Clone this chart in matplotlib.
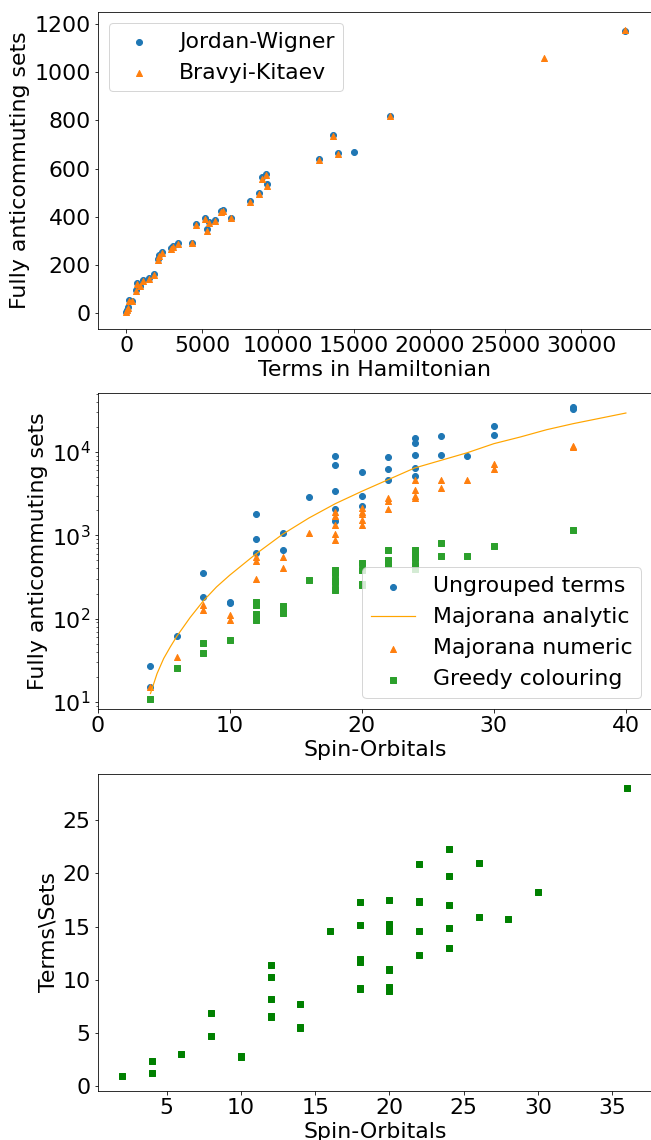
import matplotlib
matplotlib.use('Agg')
import matplotlib.pyplot as plt

plt.rcParams['font.size'] = 22

# top panel: terms in hamiltonian vs fully anticommuting sets
jw_terms = [0, 40, 77, 187, 363, 627, 671, 914, 1112, 1508, 1816, 2103, 2170, 2323, 2940, 3050, 3380,
            4326, 4590, 5186, 5297, 5463, 5834, 6250, 6389, 6899, 8149, 8751, 8936, 9213, 9260,
            12732, 13612, 13959, 15000, 17385, 32873]
jw_sets = [7, 15, 27, 55, 52, 97, 124, 115, 138, 145, 162, 225, 242, 253, 270, 279, 290,
           293, 370, 395, 348, 378, 386, 425, 428, 397, 465, 500, 565, 576, 537,
           642, 741, 664, 669, 820, 1172]
bk_terms = [0, 40, 77, 187, 363, 627, 671, 914, 1112, 1508, 1816, 2103, 2170, 2323, 2940, 3050, 3380,
            4326, 4590, 5186, 5297, 5463, 5834, 6250, 6389, 6899, 8149, 8751, 8936, 9213, 9260,
            12732, 13612, 13959, 17385, 27572, 32873]
bk_sets = [5, 12, 24, 52, 50, 94, 121, 112, 135, 142, 159, 221, 238, 250, 267, 276, 287,
           290, 367, 390, 341, 375, 383, 420, 424, 395, 462, 497, 558, 572, 530,
           638, 735, 661, 817, 1060, 1175]

# middle panel: per number of spin orbitals
orb_terms = [4, 4, 6, 8, 8, 10, 10, 12, 12, 12, 14, 14, 16, 18, 18, 18, 18, 18, 20, 20, 20,
             22, 22, 22, 24, 24, 24, 24, 24, 26, 26, 28, 30, 30, 36, 36]
ungrouped = [26.8, 15.1, 61.4, 356, 184, 154, 157, 1803, 912, 619, 1076, 661, 2884,
             8954, 7047, 3373, 2089, 1486, 5808, 2938, 2249,
             8710, 6194, 4571, 14860, 12705, 9204, 6427, 5152, 15420, 9120, 8872, 20510, 16140, 34670, 32810]

orb_line = [4, 4.5, 5, 5.5, 6, 7, 8, 9, 10, 12, 14, 16, 18, 20, 22, 24, 26, 28, 30, 32, 34, 36, 38, 40]
analytic = [12.6, 21.9, 33.2, 45.7, 61.5, 103, 163, 240, 332, 600, 1028, 1614, 2399, 3373, 4656,
            6427, 7943, 9817, 12590, 15140, 18530, 21880, 25350, 29380]

orb_num = [4, 6, 8, 8, 10, 10, 12, 12, 12, 14, 14, 16, 18, 18, 18, 18, 18, 20, 20, 20, 20, 20,
           22, 22, 22, 24, 24, 24, 24, 26, 26, 28, 30, 30, 36, 36]
numeric = [15.1, 34.7, 147, 128, 109, 95.5, 550, 492, 299, 550, 406, 1076,
           1905, 1690, 1343, 1047, 887, 2109, 1888, 1786, 1514, 1318,
           2780, 2582, 2089, 4571, 3532, 2938, 2831, 4571, 3698, 4571, 7112, 6252, 11700, 11490]

orb_greedy = [4, 6, 8, 8, 10, 12, 12, 12, 12, 12, 14, 14, 14, 16, 18, 18, 18, 18, 18, 18,
              20, 20, 20, 20, 22, 22, 22, 22, 24, 24, 24, 24, 24, 26, 26, 28, 30, 36]
greedy = [10.9, 25.6, 51.5, 38.7, 55.5, 157, 147, 113, 105, 95.5, 141, 128, 117, 291,
          387, 353, 288, 275, 227, 219, 466, 380, 263, 251, 661, 501, 492, 457,
          673, 631, 540, 437, 398, 817, 570, 565, 738, 1159]

# bottom panel: terms / sets
orb_ratio = [2, 4, 4, 6, 8, 8, 10, 10, 12, 12, 12, 12, 12, 14, 14, 14, 16, 18, 18, 18, 18, 18, 18,
             20, 20, 20, 20, 20, 20, 20, 20, 22, 22, 22, 22, 22, 24, 24, 24, 24, 24, 26, 26, 28, 30, 36]
ratio = [1.0, 2.4, 1.3, 3.0, 6.9, 4.7, 2.75, 2.85, 11.4, 10.3, 8.2, 6.65, 6.5, 7.75, 5.6, 5.45, 14.6,
         17.3, 15.1, 12.0, 11.7, 9.2, 9.1, 17.5, 15.2, 14.9, 14.6, 11.0, 10.9, 9.3, 9.0,
         20.9, 17.4, 17.3, 14.6, 12.3, 22.3, 19.7, 17.0, 14.9, 13.0, 21.0, 15.9, 15.75, 18.25, 28.0]

fig = plt.figure(figsize=(651 / 72, 1140 / 72), dpi=72)

# axes placed by hand, right edge runs a bit past the picture like the original crop
ax1 = fig.add_axes([0.150, 0.7114, 0.852, 0.2783])
ax1.scatter(jw_terms, jw_sets, label='Jordan-Wigner')
ax1.scatter(bk_terms, bk_sets, marker='^', label='Bravyi-Kitaev')
ax1.set_xlim(-1900, 34700)
ax1.set_ylim(-65, 1251)
ax1.set_xlabel('Terms in Hamiltonian')
ax1.set_ylabel('Fully anticommuting sets')
ax1.legend(loc='upper left')

ax2 = fig.add_axes([0.150, 0.378, 0.852, 0.2772])
ax2.scatter(orb_terms, ungrouped, label='Ungrouped terms')
ax2.plot(orb_line, analytic, color='orange', linewidth=1.2, label='Majorana analytic')
ax2.scatter(orb_num, numeric, marker='^', label='Majorana numeric')
ax2.scatter(orb_greedy, greedy, marker='s', label='Greedy colouring')
ax2.set_yscale('log')
ax2.set_xlim(0, 42)
ax2.set_ylim(8.2, 51000)
ax2.set_xticks([0, 10, 20, 30, 40])
ax2.set_xlabel('Spin-Orbitals')
ax2.set_ylabel('Fully anticommuting sets')
ax2.legend(loc='lower right')

ax3 = fig.add_axes([0.150, 0.0432, 0.852, 0.2778])
ax3.scatter(orb_ratio, ratio, marker='s', color='g')
ax3.set_xlim(0.36, 37.7)
ax3.set_ylim(-0.4, 29.3)
ax3.set_xlabel('Spin-Orbitals')
ax3.set_ylabel('Terms\\Sets')

plt.savefig('out.png', dpi=72)
